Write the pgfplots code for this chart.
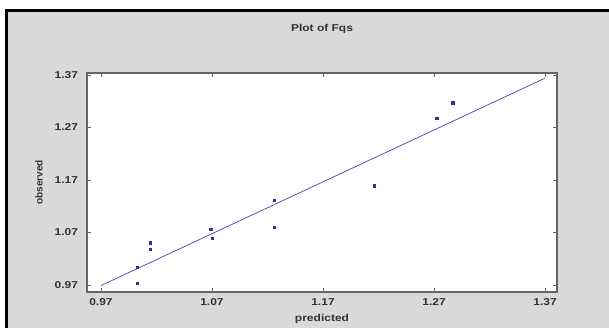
\documentclass[border=0pt]{standalone}
\usepackage{pgfplots}
\pgfplotsset{compat=1.18}
\usepackage{fontspec}
\setmainfont{Liberation Sans}
\definecolor{bg}{RGB}{217,217,217}
\definecolor{pt}{RGB}{50,50,150}
\definecolor{ln}{RGB}{85,85,185}
\definecolor{txt}{RGB}{50,50,50}
\definecolor{axl}{RGB}{100,100,100}
\begin{document}
\begin{tikzpicture}[x=1pt,y=1pt]
\useasboundingbox (0,0) rectangle (609,328);
\fill[white] (0,0) rectangle (609,328);
\fill[bg] (6,0) rectangle (609,317);
\draw[black, line width=3pt] (6,0) -- (6,317) -- (609,317);
\begin{axis}[
  at={(87pt,36pt)}, anchor=south west,
  scale only axis, width=470pt, height=219pt,
  xmin=0.9574, xmax=1.3808, ymin=0.9567, ymax=1.3738,
  axis background/.style={fill=white},
  axis line style={draw=axl, line width=1.2pt},
  xtick={0.97,1.07,1.17,1.27,1.37},
  xticklabels={\textbf{0.97},\textbf{1.07},\textbf{1.17},\textbf{1.27},\textbf{1.37}},
  ytick={0.97,1.07,1.17,1.27,1.37},
  yticklabels={\textbf{0.97},\textbf{1.07},\textbf{1.17},\textbf{1.27},\textbf{1.37}},
  tick align=inside, major tick length=4pt,
  tick style={draw=axl, line width=0.8pt},
  xtick pos=both, ytick pos=both,
  ticklabel style={font=\fontsize{10}{11}\selectfont, text=txt, xscale=1.2},
  xticklabel style={yshift=-3pt},
  yticklabel style={xshift=-4pt},
  xlabel={\textbf{predicted}},
  ylabel={\textbf{observed}},
  label style={font=\fontsize{10}{11}\selectfont, text=txt},
  xlabel style={at={(axis description cs:0.5,-0.123)}, anchor=center, xscale=1.2},
  ylabel style={at={(axis description cs:-0.102,0.5)}, anchor=center},
  clip=false,
]
\addplot[ln, line width=0.8pt] coordinates {(0.97,0.969) (1.37,1.364)};
\addplot[only marks, mark=square*, mark size=1.1pt, color=pt] coordinates {
 (1.0024,0.9732) (1.0024,1.0037) (1.0141,1.0506) (1.0141,1.0386)
 (1.0688,1.0767) (1.0700,1.0589) (1.1259,1.1313) (1.1259,1.0805)
 (1.2160,1.1591) (1.2724,1.2875) (1.2868,1.3173)
};
\node[font=\fontsize{10}{11}\selectfont\bfseries, text=txt, xscale=1.2] at (axis description cs:0.5,1.2) {Plot of Fqs};
\end{axis}
\end{tikzpicture}
\end{document}
